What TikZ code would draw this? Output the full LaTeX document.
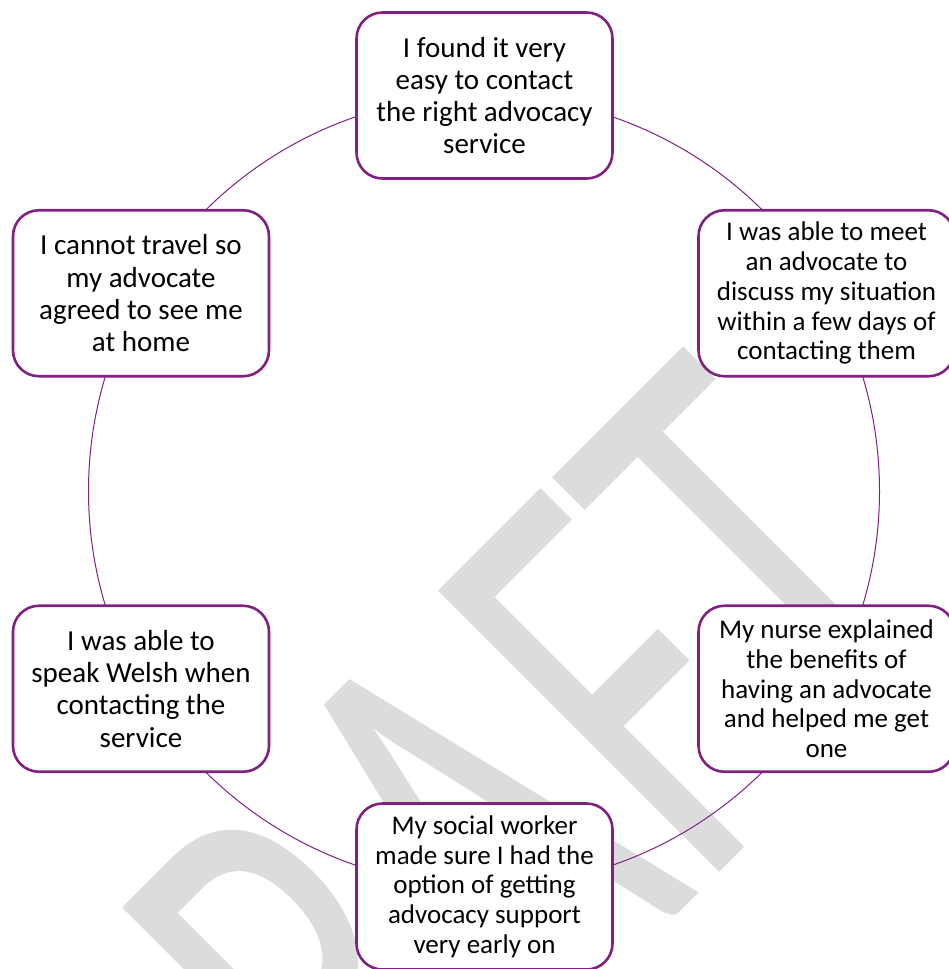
\documentclass[tikz,border=0pt]{standalone}
\usepackage{fontspec}
\setmainfont{Carlito}
\usepackage{graphicx}
\definecolor{boxpurple}{RGB}{128,32,128}
\definecolor{wmgray}{RGB}{220,220,220}
\tikzset{
  item/.style={draw=boxpurple, line width=2.6pt, fill=white, rounded corners=26pt,
    minimum width=256pt, minimum height=166pt, inner sep=0pt, align=center},
  bigtext/.style={font=\fontsize{29}{32.3}\selectfont},
  smalltext/.style={font=\fontsize{27}{29.7}\selectfont},
  ring/.style={draw=boxpurple, line width=1pt},
  watermark/.style={text=wmgray, rotate=45, inner sep=0pt, font=\fontsize{620}{620}\selectfont}
}
\begin{document}
\begin{tikzpicture}[x=1pt,y=-1pt]
\useasboundingbox (0,0) rectangle (949,969);
\clip (0,0) rectangle (949,969);
\node[watermark] (wm) at (448,863) {\scalebox{0.645}[1]{DRAFT}};
\coordinate (c) at (484,491);
\draw[ring] (c) circle[radius=395.5];
\node[item,bigtext] (top) at (484.5,95.5) {I found it very\\easy to contact\\the right advocacy\\service};
\node[item,smalltext] (ur) at (826.5,293.25) {I was able to meet\\an advocate to\\discuss my situation\\within a few days of\\contacting them};
\node[item,smalltext] (lr) at (826.5,688.75) {My nurse explained\\the benefits of\\having an advocate\\and helped me get\\one};
\node[item,smalltext] (bot) at (484.5,886.5) {My social worker\\made sure I had the\\option of getting\\advocacy support\\very early on};
\node[item,bigtext] (ll) at (141,688.75) {I was able to\\speak Welsh when\\contacting the\\service};
\node[item,bigtext] (ul) at (141,293.25) {I cannot travel so\\my advocate\\agreed to see me\\at home};
\end{tikzpicture}
\end{document}
